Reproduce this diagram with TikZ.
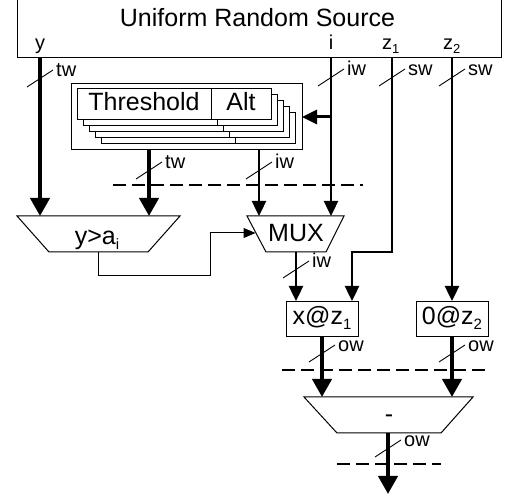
\documentclass[tikz,border=0pt]{standalone}
\usepackage{fontspec}
\setmainfont{Liberation Sans}
\usetikzlibrary{arrows.meta}
\newcommand{\subbig}[1]{\raisebox{-5pt}{\fontsize{15}{15}\selectfont #1}}
\newcommand{\subsmall}[1]{\raisebox{-4pt}{\fontsize{13}{13}\selectfont #1}}
\newcommand{\busmark}[4]{%
  \draw[slashline] (#2-13,#3+10) -- (#2+13,#3-7);
  \node[small, anchor=base west] (#1) at (#2+16,#3) {#4};}
\begin{document}
\begin{tikzpicture}[x=1pt,y=-1pt,
  thinline/.style={line width=1pt},
  medline/.style={line width=2.4pt},
  thkline/.style={line width=4pt},
  tipthk/.style={-{Triangle[length=18pt,width=19pt]}},
  tipmed/.style={-{Triangle[length=15pt,width=14pt]}},
  tipthin/.style={-{Triangle[length=12pt,width=10pt]}},
  big/.style={font=\fontsize{25}{30}\selectfont, inner sep=0pt},
  small/.style={font=\fontsize{20}{24}\selectfont, inner sep=0pt},
  box/.style={draw, line width=1pt, fill=white, inner sep=0pt, anchor=north west},
  slashline/.style={line width=0.9pt},
  dashline/.style={line width=1.3pt, dash pattern=on 13pt off 6pt},
  trap/.style={draw, line width=1pt, fill=white}]
\useasboundingbox (0,0) rectangle (507,497);

% source
\node[box, anchor=south west, minimum width=484pt, minimum height=80pt] (src) at (17,58) {};
\node[big, anchor=base] (title) at (257.5,27) {Uniform Random Source};
\node[small, anchor=base] (ylab) at (40,50) {y};
\node[small, anchor=base] (ilab) at (331,50) {i};
\node[small, anchor=base west] (z1lab) at (382,50) {z\subsmall{1}};
\node[small, anchor=base west] (z2lab) at (443,50) {z\subsmall{2}};

% threshold table group
\node[box, minimum width=231pt, minimum height=66pt] (tgroup) at (71,83) {};
\foreach \k in {4,3,2,1} {
  \node[box, minimum width=194pt, minimum height=31pt] (tb\k) at (77+6*\k,88+6*\k) {};
  \draw[thinline] (211+6*\k,88+6*\k) -- (211+6*\k,119+6*\k);
}
\node[box, minimum width=134pt, minimum height=31pt] (thr) at (77,88) {};
\node[box, minimum width=60pt, minimum height=31pt] (alt) at (211,88) {};
\node[big, anchor=base] (thrtext) at (144,111) {Threshold};
\node[big, anchor=base] (alttext) at (241,111) {Alt};

% comparator, mux, subtractor
\draw[trap] (17,216) -- (180,216) -- (148,252) -- (49,252) -- cycle;
\node[big, anchor=base] (cmp) at (97,245) {y>a\subbig{i}};
\draw[trap] (247,216) -- (344,216) -- (326,252) -- (266,252) -- cycle;
\node[big, anchor=base] (mux) at (296,242) {MUX};
\draw[trap] (304,397) -- (473,397) -- (441,433) -- (337,433) -- cycle;
\node[big, anchor=base] (sub) at (389,423) {-};

% shift boxes
\node[box, minimum width=72pt, minimum height=35pt] (xz) at (286,301) {};
\node[big, anchor=base] (xztext) at (322,325) {x@z\subbig{1}};
\node[box, minimum width=72pt, minimum height=35pt] (oz) at (416,301) {};
\node[big, anchor=base] (oztext) at (452,325) {0@z\subbig{2}};

% connector end points
\coordinate (ysrc) at (40,58);
\coordinate (cmpA) at (40,216);
\coordinate (twsrc) at (149,149);
\coordinate (cmpB) at (149,216);
\coordinate (iwsrc) at (259,149);
\coordinate (muxA) at (259,216);
\coordinate (isrc) at (331,58);
\coordinate (muxB) at (331,216);
\coordinate (ibr) at (331,117);
\coordinate (tin) at (302,117);
\coordinate (cmpout) at (98,252);
\coordinate (muxsel) at (255.5,233);
\coordinate (muxout) at (296,252);
\coordinate (xzA) at (296,301);
\coordinate (z1src) at (392,58);
\coordinate (xzB) at (352,301);
\coordinate (z2src) at (452,58);
\coordinate (ozA) at (452,301);
\coordinate (xzout) at (322,336);
\coordinate (subA) at (322,397);
\coordinate (ozout) at (452,336);
\coordinate (subB) at (452,397);
\coordinate (subout) at (388,433);
\coordinate (fin) at (388,494);

% connectors
\draw[thkline, tipthk] (ysrc) -- (cmpA);
\draw[thkline, tipthk] (twsrc) -- (cmpB);
\draw[medline, tipmed] (iwsrc) -- (muxA);
\draw[medline, tipmed] (isrc) -- (muxB);
\draw[line width=3pt, tipmed] (ibr) -- (tin);
\draw[thinline, tipthin] (cmpout) |- (210,276) |- (muxsel);
\draw[medline, tipmed] (muxout) -- (xzA);
\draw[medline, tipmed] (z1src) |- (352,252) -- (xzB);
\draw[medline, tipmed] (z2src) -- (ozA);
\draw[thkline, tipthk] (xzout) -- (subA);
\draw[thkline, tipthk] (ozout) -- (subB);
\draw[thkline, tipthk] (subout) -- (fin);

% bus width marks
\busmark{twA}{40}{77}{tw}
\busmark{iwA}{331}{76}{iw}
\busmark{swA}{392}{76}{sw}
\busmark{swB}{452}{76}{sw}
\busmark{twB}{149}{169}{tw}
\busmark{iwB}{259}{169}{iw}
\busmark{iwC}{296}{268}{iw}
\busmark{owA}{322}{352}{ow}
\busmark{owB}{452}{352}{ow}
\busmark{owC}{388}{447}{ow}

% register boundaries
\draw[dashline] (113,185) -- (363,185);
\draw[dashline] (282,370) -- (490,370);
\draw[dashline] (337,464) -- (441,464);
\end{tikzpicture}
\end{document}
